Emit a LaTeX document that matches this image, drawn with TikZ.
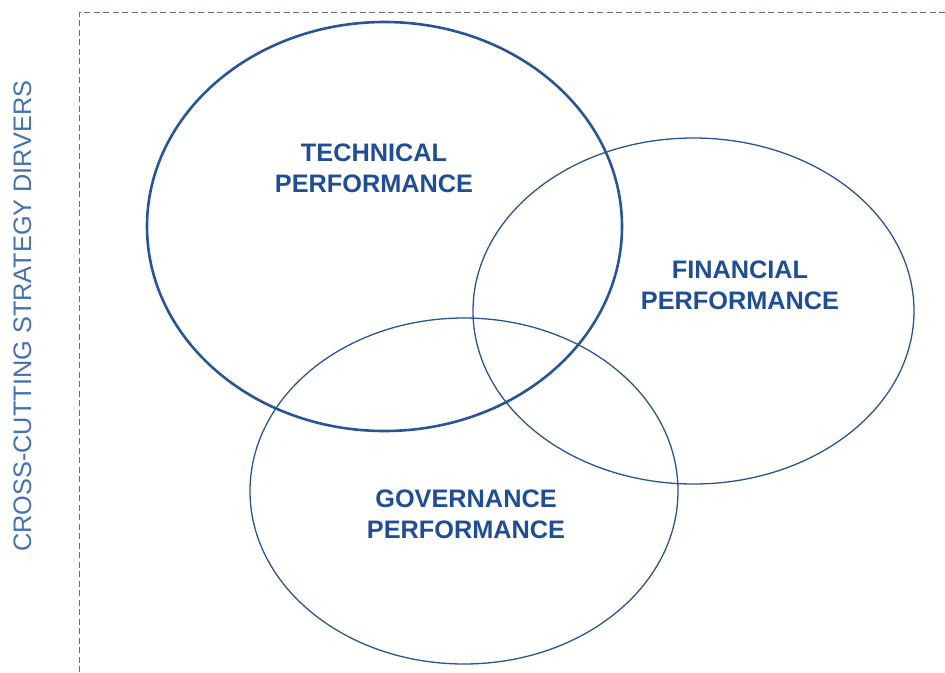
\documentclass[tikz,border=0pt]{standalone}
\usepackage{fontspec}
\setmainfont{Liberation Sans}
\definecolor{ringblue}{HTML}{2A5595}
\definecolor{textblue}{HTML}{1F4E96}
\definecolor{sideblue}{HTML}{4470B0}
\definecolor{frameblue}{HTML}{5A7093}

\begin{document}
\begin{tikzpicture}[x=1pt, y=-1pt,
    ring/.style={draw=ringblue, line width=1.3pt},
    area/.style={font=\bfseries\fontsize{25.3}{31}\selectfont, text=textblue, align=center},
    side/.style={font=\fontsize{25.3}{30}\selectfont, text=sideblue, rotate=90}]
    \useasboundingbox (0,0) rectangle (945,672);

    \coordinate (T) at (384.5, 226.5) ; 
    \coordinate (F) at (693.5, 311) ; 
    \coordinate (G) at (464, 491) ; 

  \draw[frameblue, line width=1pt, dash pattern=on 6pt off 3.5pt] (945,12) -- (79,12) -- (79,672);

  \draw[ring, line width=2.6pt] (T) ellipse [x radius=237.5, y radius=204.5];
  \draw[ring] (F) ellipse [x radius=220.5, y radius=173];
  \draw[ring] (G) ellipse [x radius=214, y radius=173];

  \node[area] (tech) at (374,168) {TECHNICAL\\PERFORMANCE};
  \node[area] (fin) at (740,285) {FINANCIAL\\PERFORMANCE};
  \node[area] (gov) at (466,514) {GOVERNANCE\\PERFORMANCE};
  \node[side] (drivers) at (22.5,316) {CROSS-CUTTING STRATEGY DIRVERS};

\end{tikzpicture}
\end{document}
